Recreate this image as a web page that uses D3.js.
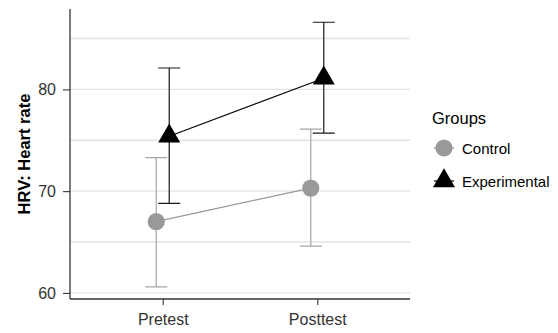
<!DOCTYPE html>
<html>
<head>
<meta charset="utf-8">
<script src="https://cdn.jsdelivr.net/npm/d3@7"></script>
<style>
  html, body { margin: 0; padding: 0; background: #fff; }
  svg { display: block; font-family: "Liberation Sans", Arial, sans-serif; }
</style>
</head>
<body>
<svg id="chart" width="558" height="333"></svg>
<script>
// Time points and groups
const timepoints = ["Pretest", "Posttest"];
const groups = ["Control", "Experimental"];

// Group means and error bar limits per time point
const controlMean = [67.0, 70.3];
const controlLow  = [60.6, 64.6];
const controlHigh = [73.3, 76.1];
const expMean = [75.4, 81.1];
const expLow  = [68.8, 75.7];
const expHigh = [82.1, 86.6];

const yTicks = [60, 70, 80];
const yMinorTicks = [65, 75, 85];

const series = [
  { name: groups[0], mean: controlMean, low: controlLow, high: controlHigh,
    color: "#999999", barColor: "#a6a6a6", shape: "circle", dodge: -1 },
  { name: groups[1], mean: expMean, low: expLow, high: expHigh,
    color: "#000000", barColor: "#1a1a1a", shape: "triangle", dodge: 1 }
];

const svg = d3.select("#chart");
const panel = { left: 70, right: 410, top: 9, bottom: 299 };

// Discrete x positions with ggplot-style expansion
const x = d3.scalePoint().domain(timepoints)
  .range([panel.left, panel.right]).padding(0.6);
const dodgeOffset = 6.5;

const y = d3.scaleLinear().domain([59.4, 87.9]).range([panel.bottom, panel.top]);

// Grid lines
svg.append("g").selectAll("line")
  .data(yTicks.concat(yMinorTicks))
  .join("line")
  .attr("x1", panel.left).attr("x2", panel.right)
  .attr("y1", d => y(d)).attr("y2", d => y(d))
  .attr("stroke", "#e3e3e3").attr("stroke-width", 1.3);

// Axes
const yAxis = svg.append("g")
  .attr("transform", `translate(${panel.left},0)`)
  .call(d3.axisLeft(y).tickValues(yTicks).tickSize(7).tickPadding(7).tickSizeOuter(0));
const xAxis = svg.append("g")
  .attr("transform", `translate(0,${panel.bottom})`)
  .call(d3.axisBottom(x).tickSize(6).tickPadding(9).tickSizeOuter(0));

[yAxis, xAxis].forEach(a => {
  a.select(".domain").attr("stroke", "#333").attr("stroke-width", 1.3);
  a.selectAll(".tick line").attr("stroke", "#333").attr("stroke-width", 1.1);
  a.selectAll(".tick text").attr("fill", "#333")
    .style("font-family", '"Liberation Sans", Arial, sans-serif')
    .style("font-size", "16px");
});
// extend the axis lines to span the whole panel
yAxis.select(".domain").attr("d", `M0,${panel.bottom}V${panel.top}`);
xAxis.select(".domain").attr("d", `M${panel.left},0H${panel.right}`);

// Y axis title
svg.append("text")
  .attr("transform", `translate(30,${(panel.top + panel.bottom) / 2}) rotate(-90)`)
  .attr("text-anchor", "middle")
  .attr("font-weight", "bold")
  .attr("font-size", "16.5px")
  .attr("fill", "#000")
  .text("HRV: Heart rate");

const triangle = d3.symbol().type(d3.symbolTriangle);

series.forEach(s => {
  const g = svg.append("g");
  const px = i => x(timepoints[i]) + s.dodge * dodgeOffset;
  const idx = d3.range(timepoints.length);

  // error bars
  idx.forEach(i => {
    const cx = px(i), half = 11;
    const path = `M${cx - half},${y(s.high[i])}H${cx + half}` +
                 `M${cx},${y(s.high[i])}V${y(s.low[i])}` +
                 `M${cx - half},${y(s.low[i])}H${cx + half}`;
    g.append("path").attr("d", path).attr("fill", "none")
      .attr("stroke", s.barColor).attr("stroke-width", 1.2);
  });

  // connecting line
  g.append("path")
    .datum(idx)
    .attr("d", d3.line().x(i => px(i)).y(i => y(s.mean[i])))
    .attr("fill", "none").attr("stroke", s.color).attr("stroke-width", 1.2);

  // points
  idx.forEach(i => {
    if (s.shape === "circle") {
      g.append("circle").attr("cx", px(i)).attr("cy", y(s.mean[i]))
        .attr("r", 8.6).attr("fill", s.color);
    } else {
      g.append("path").attr("d", triangle.size(210)())
        .attr("transform", `translate(${px(i)},${y(s.mean[i])})`)
        .attr("fill", s.color);
    }
  });
});

// Legend
const legend = svg.append("g").attr("transform", "translate(432,0)");
legend.append("text").attr("x", 0).attr("y", 124)
  .attr("font-size", "16.5px").attr("fill", "#000").text("Groups");

const keyRows = [148, 181];
series.forEach((s, k) => {
  const cy = keyRows[k];
  legend.append("line").attr("x1", 2).attr("x2", 22).attr("y1", cy).attr("y2", cy)
    .attr("stroke", s.color).attr("stroke-width", 1.2);
  if (s.shape === "circle") {
    legend.append("circle").attr("cx", 12).attr("cy", cy).attr("r", 8.6).attr("fill", s.color);
  } else {
    legend.append("path").attr("d", triangle.size(210)())
      .attr("transform", `translate(12,${cy})`).attr("fill", s.color);
  }
  legend.append("text").attr("x", 30).attr("y", cy + 6)
    .attr("font-size", "15px").attr("fill", "#000").text(s.name);
});
</script>
</body>
</html>
